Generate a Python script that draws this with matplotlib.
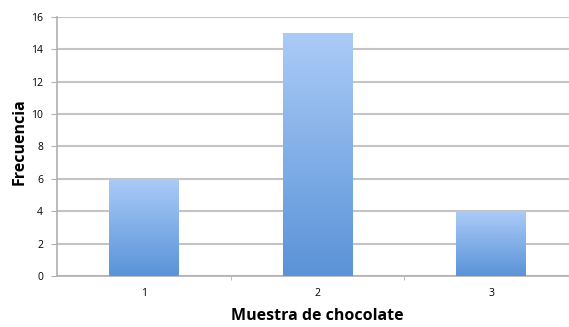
import numpy as np
import matplotlib.pyplot as plt
from matplotlib.patches import Rectangle
from matplotlib.colors import LinearSegmentedColormap

muestras = ['1', '2', '3']
frecuencia = [6, 15, 4]
yticks = [0, 2, 4, 6, 8, 10, 12, 14, 16]

plt.rcParams['font.family'] = ['Open Sans', 'DejaVu Sans']

fig = plt.figure(figsize=(5.69, 3.27), dpi=100)
ax = fig.add_axes([0.100, 0.156, 0.916, 0.792])

x = np.arange(1, len(muestras) + 1)
ancho = 0.40
grad = LinearSegmentedColormap.from_list('azul', ['#5a93d8', '#abcbf7'])
img = np.linspace(0, 1, 256).reshape(-1, 1)

# barras con degradado vertical
for xi, v in zip(x, frecuencia):
    rect = Rectangle((xi - ancho / 2, 0), ancho, v, facecolor='none',
                     edgecolor='none', zorder=3)
    ax.add_patch(rect)
    im = ax.imshow(img, cmap=grad, origin='lower', aspect='auto',
                   extent=(xi - ancho / 2, xi + ancho / 2, 0, v), zorder=3)
    im.set_clip_path(rect)

ax.set_xlim(0.5, 3.5)
ax.set_ylim(0, 16)
ax.set_yticks(yticks)
ax.set_xticks(x)
ax.set_xticklabels(muestras)
ax.set_xticks([1.5, 2.5], minor=True)
ax.grid(axis='y', color='#c4c4c4', linewidth=1.5, zorder=0)
ax.set_axisbelow(True)

for lado in ['top', 'right']:
    ax.spines[lado].set_visible(False)
for lado in ['left', 'bottom']:
    ax.spines[lado].set_color('#b0b0b0')
    ax.spines[lado].set_linewidth(1.2)

ax.tick_params(axis='y', length=4, color='#b0b0b0', labelsize=7.5, pad=6)
ax.tick_params(axis='x', which='major', length=0, labelsize=7.5, pad=9)
ax.tick_params(axis='x', which='minor', length=3, color='#b0b0b0')

ax.set_xlabel('Muestra de chocolate', fontsize=11.5, fontweight='bold', labelpad=6)
ax.set_ylabel('Frecuencia', fontsize=11.5, fontweight='bold')
ax.yaxis.set_label_coords(-0.057, 0.52)

fig.savefig('out.png', dpi=100)
